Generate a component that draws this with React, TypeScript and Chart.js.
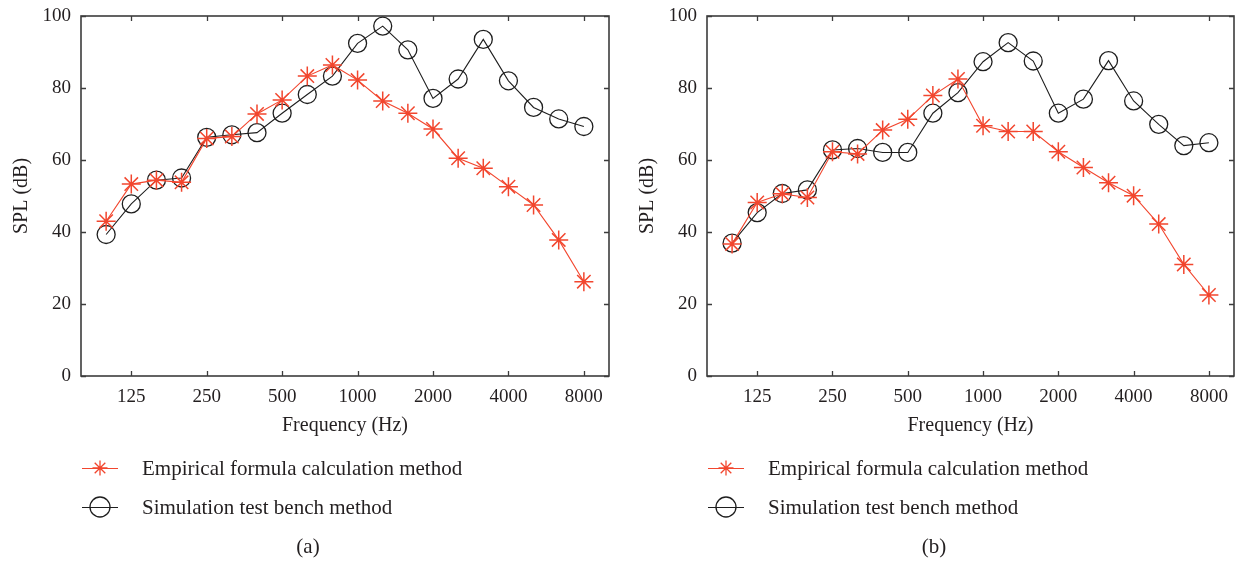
import React, { useEffect, useRef } from "react";
import { Chart, registerables } from "chart.js";

Chart.register(...registerables);

// ---- data ----
const FREQS = ["100", "125", "160", "200", "250", "315", "400", "500", "630", "800", "1000", "1250", "1600", "2000", "2500", "3150", "4000", "5000", "6300", "8000"];
const TICK_LABELS = ["125", "250", "500", "1000", "2000", "4000", "8000"];
const Y_TICKS = [0, 20, 40, 60, 80, 100];

const EMP_A = [43, 53.3, 54.4, 53.8, 66, 66.5, 72.8, 76.7, 83.3, 86.4, 82.2, 76.4, 73, 68.6, 60.5, 57.7, 52.6, 47.5, 37.8, 26.2];
const SIM_A = [39.3, 47.8, 54.4, 55, 66.3, 67, 67.6, 73, 78.2, 83.3, 92.4, 97.2, 90.6, 77.1, 82.5, 93.5, 82, 74.6, 71.4, 69.3];
const EMP_B = [36.7, 48.2, 50.6, 49.6, 62.3, 61.7, 68.3, 71.3, 77.9, 82.5, 69.5, 67.9, 67.9, 62.3, 57.9, 53.7, 50.1, 42.2, 31, 22.5];
const SIM_B = [36.9, 45.4, 50.7, 51.7, 62.8, 63.2, 62.1, 62.1, 73, 78.7, 87.3, 92.6, 87.5, 73, 76.9, 87.6, 76.4, 69.9, 64, 64.8];

const SERIES_NAMES = ["Empirical formula calculation method", "Simulation test bench method"];
const X_TITLE = "Frequency (Hz)";
const Y_TITLE = "SPL (dB)";

// ---- styles ----
const FONT = '"Liberation Serif", "Times New Roman", serif';
const RED = "#f2462e";
const BLACK = "#1e1e1e";
const AXIS = "#3c3c3c";
const TEXT = "#231f20";

const framePlugin = {
  id: "frameTicks",
  beforeDatasetsDraw(chart: any) {
    const { ctx, chartArea, scales } = chart;
    const { left, right, top, bottom } = chartArea;
    const x = scales.x;
    const y = scales.y;
    ctx.save();
    ctx.strokeStyle = AXIS;
    ctx.lineWidth = 1.6;
    ctx.strokeRect(left, top, right - left, bottom - top);
    ctx.lineWidth = 1.3;
    ctx.beginPath();
    x.ticks.forEach((t: any) => {
      const px = Math.round(x.getPixelForValue(t.value)) + 0.5;
      ctx.moveTo(px, bottom);
      ctx.lineTo(px, bottom - 5);
      ctx.moveTo(px, top);
      ctx.lineTo(px, top + 5);
    });
    y.ticks.forEach((t: any) => {
      const py = Math.round(y.getPixelForValue(t.value)) + 0.5;
      ctx.moveTo(left, py);
      ctx.lineTo(left + 5, py);
      ctx.moveTo(right, py);
      ctx.lineTo(right - 5, py);
    });
    ctx.stroke();
    ctx.restore();
  },
};

function drawStar(ctx: CanvasRenderingContext2D, cx: number, cy: number, r: number) {
  const d = r * Math.SQRT1_2;
  ctx.beginPath();
  ctx.moveTo(cx - r, cy);
  ctx.lineTo(cx + r, cy);
  ctx.moveTo(cx, cy - r);
  ctx.lineTo(cx, cy + r);
  ctx.moveTo(cx - d, cy - d);
  ctx.lineTo(cx + d, cy + d);
  ctx.moveTo(cx - d, cy + d);
  ctx.lineTo(cx + d, cy - d);
  ctx.stroke();
}

const legendPlugin = {
  id: "sideLegend",
  afterDraw(chart: any, _args: any, opts: any) {
    const { ctx, chartArea } = chart;
    const x0 = chartArea.left;
    const rows = [468, 507];
    ctx.save();
    chart.data.datasets.forEach((ds: any, i: number) => {
      const y = rows[i];
      ctx.strokeStyle = ds.borderColor;
      ctx.lineWidth = 1.1;
      ctx.beginPath();
      ctx.moveTo(x0 + 1, y + 0.5);
      ctx.lineTo(x0 + 37, y + 0.5);
      ctx.stroke();
      ctx.lineWidth = 1.3;
      if (ds.pointStyle === "star") {
        drawStar(ctx, x0 + 19, y, 7.5);
      } else {
        ctx.beginPath();
        ctx.arc(x0 + 19, y, 10, 0, Math.PI * 2);
        ctx.stroke();
      }
      ctx.fillStyle = TEXT;
      ctx.font = `21px ${FONT}`;
      ctx.textBaseline = "middle";
      ctx.textAlign = "left";
      ctx.fillText(ds.label, x0 + 61, y + 1);
    });
    ctx.font = `21px ${FONT}`;
    ctx.textAlign = "center";
    ctx.textBaseline = "middle";
    ctx.fillStyle = TEXT;
    ctx.fillText(opts.caption, x0 + 227, 547);
    ctx.restore();
  },
};

function Panel(props: { left: number; width: number; rightPad: number; emp: number[]; sim: number[]; caption: string }) {
  const ref = useRef<HTMLCanvasElement>(null);
  useEffect(() => {
    const canvas = ref.current;
    if (!canvas) return;
    const chart = new Chart(canvas, {
      type: "line",
      data: {
        datasets: [
          {
            label: SERIES_NAMES[0],
            data: props.emp.map((v, i) => ({ x: i, y: v })),
            borderColor: RED,
            backgroundColor: "transparent",
            borderWidth: 1.1,
            pointStyle: "star",
            pointRadius: 9.5,
            pointBorderWidth: 1.5,
            pointBorderColor: RED,
            pointBackgroundColor: "transparent",
            tension: 0,
          },
          {
            label: SERIES_NAMES[1],
            data: props.sim.map((v, i) => ({ x: i, y: v })),
            borderColor: BLACK,
            backgroundColor: "transparent",
            borderWidth: 1.1,
            pointStyle: "circle",
            pointRadius: 9,
            pointBorderWidth: 1.3,
            pointBorderColor: BLACK,
            pointBackgroundColor: "transparent",
            tension: 0,
          },
        ],
      },
      options: {
        responsive: false,
        maintainAspectRatio: false,
        animation: false,
        events: [],
        layout: { autoPadding: false, padding: { left: 0, top: 16, right: props.rightPad, bottom: 123 } },
        plugins: {
          legend: { display: false },
          tooltip: { enabled: false },
          sideLegend: { caption: props.caption },
        } as any,
        scales: {
          x: {
            type: "linear",
            min: -1,
            max: FREQS.length,
            grid: { display: false, drawTicks: false },
            border: { display: false },
            afterBuildTicks: (scale: any) => {
              scale.ticks = TICK_LABELS.map((l) => ({ value: FREQS.indexOf(l) }));
            },
            afterFit: (scale: any) => {
              scale.height = 62;
              scale.paddingLeft = 0;
              scale.paddingRight = 0;
            },
            ticks: {
              autoSkip: false,
              maxRotation: 0,
              padding: 10,
              color: TEXT,
              font: { family: FONT, size: 19 },
              callback: (v: any) => FREQS[v as number],
            },
            title: {
              display: true,
              text: X_TITLE,
              color: TEXT,
              font: { family: FONT, size: 20 },
              padding: { top: 0, bottom: 0 },
            },
          },
          y: {
            type: "linear",
            min: 0,
            max: 100,
            grid: { display: false, drawTicks: false },
            border: { display: false },
            afterBuildTicks: (scale: any) => {
              scale.ticks = Y_TICKS.map((v) => ({ value: v }));
            },
            afterFit: (scale: any) => {
              scale.width = 81;
              scale.paddingTop = 0;
              scale.paddingBottom = 0;
            },
            ticks: {
              padding: 10,
              color: TEXT,
              font: { family: FONT, size: 19 },
            },
            title: {
              display: true,
              text: Y_TITLE,
              color: TEXT,
              font: { family: FONT, size: 20 },
              padding: { top: 10, bottom: 0 },
            },
          },
        },
      },
      plugins: [framePlugin, legendPlugin],
    } as any);
    return () => chart.destroy();
  }, []);
  return (
    <canvas
      ref={ref}
      width={props.width}
      height={561}
      style={{ position: "absolute", left: props.left, top: 0, width: props.width, height: 561 }}
    />
  );
}

export default function App() {
  return (
    <div style={{ position: "fixed", left: 0, top: 0, width: 1236, height: 561, background: "#fff", overflow: "hidden" }}>
      <Panel left={0} width={620} rightPad={11} emp={EMP_A} sim={SIM_A} caption="(a)" />
      <Panel left={626} width={610} rightPad={2} emp={EMP_B} sim={SIM_B} caption="(b)" />
    </div>
  );
}
